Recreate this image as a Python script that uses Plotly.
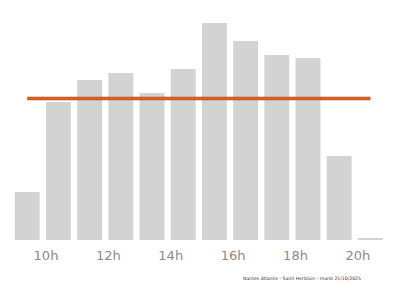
import plotly.graph_objects as go

hours = [9, 10, 11, 12, 13, 14, 15, 16, 17, 18, 19, 20]
values = [48, 138, 160, 167, 147, 171, 217, 199, 185, 182, 84, 1.5]
tick_vals = [10, 12, 14, 16, 18, 20]
tick_text = ["10h", "12h", "14h", "16h", "18h", "20h"]
caption = "Nantes Atlantis - Saint Herblain - mardi 21/10/2025"

avg = sum(values) / len(values)

fig = go.Figure()
fig.add_trace(go.Bar(x=hours, y=values, width=0.8, offset=0,
                     marker=dict(color="#d3d3d3", line=dict(width=0)),
                     hoverinfo="skip"))
fig.add_trace(go.Scatter(x=[hours[0] + 0.4, hours[-1] + 0.4], y=[avg, avg],
                         mode="lines", line=dict(color="#b9532a", width=3.5),
                         hoverinfo="skip"))
fig.add_trace(go.Scatter(x=[hours[0] + 0.4, hours[-1] + 0.4], y=[avg, avg],
                         mode="lines", line=dict(color="#f0621c", width=1.5),
                         hoverinfo="skip"))
fig.add_annotation(text=caption, xref="paper", yref="paper",
                   x=0.754, y=-0.16, xanchor="center", yanchor="middle",
                   showarrow=False,
                   font=dict(size=4.6, color="#333", family="DejaVu Sans"))
fig.update_layout(
    width=400, height=286,
    margin=dict(l=0, r=0, t=0, b=46),
    paper_bgcolor="white", plot_bgcolor="white",
    showlegend=False,
    xaxis=dict(range=[8.526, 21.35], tickvals=tick_vals, ticktext=tick_text,
               showgrid=False, zeroline=False, showline=False, ticks="",
               ticklabelstandoff=6,
               tickfont=dict(size=13, color="#8a8a8a", family="DejaVu Sans")),
    yaxis=dict(range=[0, 240], visible=False),
)
fig.write_html("out.html")
